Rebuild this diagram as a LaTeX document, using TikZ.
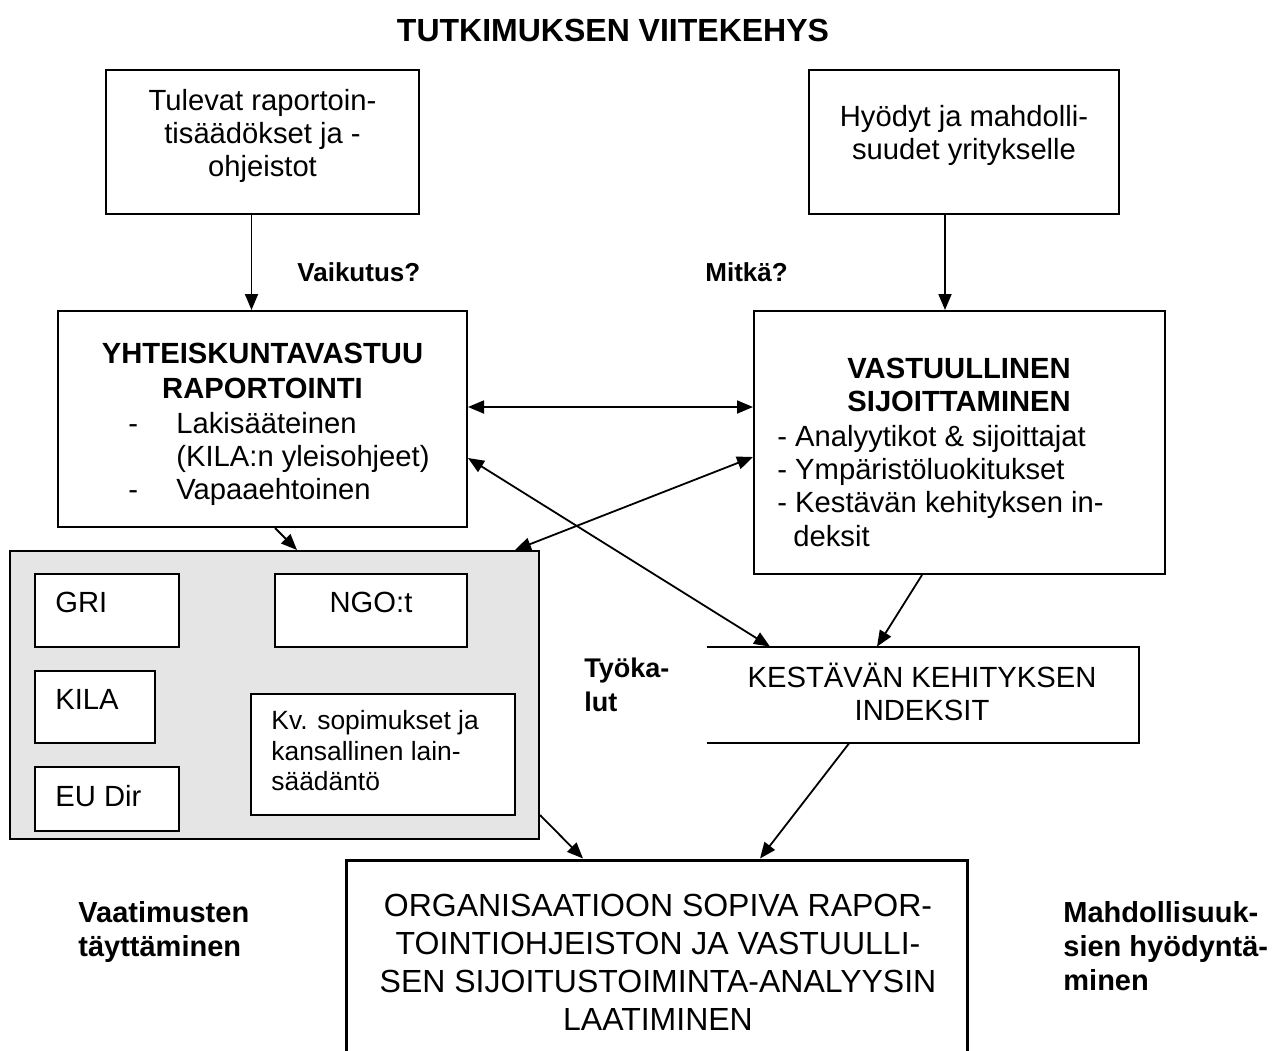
\documentclass[tikz,border=0pt]{standalone}
\usepackage{fontspec}
\setmainfont{Liberation Sans}
\usetikzlibrary{arrows.meta}

% font sizes used in the figure
\newcommand\txtbody{\fontsize{14.6}{16.5}\selectfont}
\newcommand\txtsmall{\fontsize{13.2}{15.25}\selectfont}
\newcommand\txtlabel{\fontsize{14.5}{17}\selectfont\bfseries}
\newcommand\txtbig{\fontsize{16}{19}\selectfont}
\newcommand\txttitle{\fontsize{16}{19}\selectfont\bfseries}

\begin{document}
\begin{tikzpicture}[x=0.5pt,y=-0.5pt,
  frame/.style={draw,line width=1pt,inner sep=0pt},
  thickframe/.style={draw,line width=1.5pt,inner sep=0pt},
  panel/.style={draw,line width=1pt,inner sep=0pt,fill=black!10},
  txt/.style={inner sep=0pt,font=\txtbody},
  lbl/.style={inner sep=0pt,font=\txtlabel,anchor=base west},
  conn/.style={line width=0.9pt,-{Triangle[length=8pt,width=6.5pt]}},
  biconn/.style={line width=0.9pt,{Triangle[length=8pt,width=6.5pt]}-{Triangle[length=8pt,width=6.5pt]}}]

\clip (0,0) rectangle (1272,1050);
\fill[white] (0,0) rectangle (1272,1050);

% title
\node[inner sep=0pt,font=\txttitle] (title) at (613,30) {TUTKIMUKSEN VIITEKEHYS};

% top boxes
\node[frame,minimum width=156.5pt,minimum height=72pt] (b1) at (262.5,142) {};
\node[txt,align=center] (b1t) at (262.5,136) {Tulevat raportoin-\\tisäädökset ja -\\ohjeistot};

\node[frame,minimum width=155pt,minimum height=72pt] (b3) at (964,142) {};
\node[txt,align=center] (b3t) at (964,135) {Hyödyt ja mahdolli-\\suudet yritykselle};

% reporting box
\node[frame,minimum width=204.5pt,minimum height=108pt] (b2) at (262.5,419) {};
\node[txt,font=\txtbody\bfseries,anchor=base] (b2h1) at (262.5,363) {YHTEISKUNTAVASTUU};
\node[txt,font=\txtbody\bfseries,anchor=base] (b2h2) at (262.5,398) {RAPORTOINTI};
\node[txt,anchor=base west] (b2d1) at (128,433) {-};
\node[txt,anchor=base west] (b2l1) at (176,433) {Lakisääteinen};
\node[txt,anchor=base west] (b2l2) at (176,466) {(KILA:n yleisohjeet)};
\node[txt,anchor=base west] (b2d2) at (128,499) {-};
\node[txt,anchor=base west] (b2l3) at (176,499) {Vapaaehtoinen};

% investment box
\node[frame,minimum width=205.5pt,minimum height=131.5pt] (b4) at (959.5,442.5) {};
\node[txt,font=\txtbody\bfseries,anchor=base west] (b4h1) at (847,378) {VASTUULLINEN};
\node[txt,font=\txtbody\bfseries,anchor=base west] (b4h2) at (847,411) {SIJOITTAMINEN};
\node[txt,anchor=base west] (b4l1) at (777,446) {- Analyytikot \& sijoittajat};
\node[txt,anchor=base west] (b4l2) at (777,479) {- Ympäristöluokitukset};
\node[txt,anchor=base west] (b4l3) at (777,512) {- Kestävän kehityksen in-};
\node[txt,anchor=base west] (b4l4) at (793,546) {deksit};

% tools panel
\node[panel,minimum width=264.5pt,minimum height=144pt] (panel) at (274.5,695) {};
\node[frame,fill=white,minimum width=72pt,minimum height=36.5pt] (gri) at (107,610.5) {};
\node[txt,anchor=base west] (grit) at (55,612) {GRI};
\node[frame,fill=white,minimum width=96pt,minimum height=36.5pt] (ngo) at (371,610.5) {};
\node[txt,anchor=base] (ngot) at (371,612) {NGO:t};
\node[frame,fill=white,minimum width=60pt,minimum height=36pt] (kila) at (95,707) {};
\node[txt,anchor=base west] (kilat) at (55,709) {KILA};
\node[frame,fill=white,minimum width=72pt,minimum height=32pt] (eudir) at (107,799) {};
\node[txt,anchor=base west] (eudirt) at (55,806) {EU Dir};
\node[frame,fill=white,minimum width=132pt,minimum height=60.5pt] (kv) at (383,754.5) {};
\node[txt,font=\txtsmall,anchor=base west] (kv1) at (271,729) {Kv. sopimukset ja};
\node[txt,font=\txtsmall,anchor=base west] (kv2) at (271,760) {kansallinen lain-};
\node[txt,font=\txtsmall,anchor=base west] (kv3) at (271,790) {säädäntö};

% index box (open on the left)
\node[inner sep=0pt,minimum width=216pt,minimum height=48pt] (kest) at (923,695) {};
\draw[line width=1pt] (kest.north west) -- (kest.north east) -- (kest.south east) -- (kest.south west);
\node[txt,align=center] (kestt) at (922,692) {KESTÄVÄN KEHITYKSEN\\INDEKSIT};

% result box
\node[thickframe,minimum width=310.5pt,minimum height=121pt] (res) at (656.5,981) {};
\node[txt,font=\txtbig,align=center] (rest) at (658,962) {ORGANISAATIOON SOPIVA RAPOR-\\TOINTIOHJEISTON JA VASTUULLI-\\SEN SIJOITUSTOIMINTA-ANALYYSIN\\LAATIMINEN};

% free labels
\node[lbl,font=\fontsize{13}{15}\selectfont\bfseries] (vaik) at (297,281) {Vaikutus?};
\node[lbl,font=\fontsize{13}{15}\selectfont\bfseries] (mitka) at (705,281) {Mitkä?};
\node[lbl,font=\fontsize{13.5}{15}\selectfont\bfseries] (tyo1) at (584,677) {Työka-};
\node[lbl,font=\fontsize{13.5}{15}\selectfont\bfseries] (tyo2) at (584,711) {lut};
\node[lbl] (vaat1) at (78,922) {Vaatimusten};
\node[lbl] (vaat2) at (78,956) {täyttäminen};
\node[lbl] (mahd1) at (1063,922) {Mahdollisuuk-};
\node[lbl] (mahd2) at (1063,956) {sien hyödyntä-};
\node[lbl] (mahd3) at (1063,990) {minen};

% connectors
\draw[conn] ([xshift=-5.5pt]b1.south) -- ([xshift=-5.5pt]b2.north);
\draw[conn] ([xshift=-9.5pt]b3.south) -- ([xshift=-7.25pt]b4.north);
\draw[biconn] ([yshift=6pt]b2.east) -- ([yshift=17.75pt]b4.west);
\draw[biconn] ([yshift=-7.25pt]b4.west) -- ([xshift=120.25pt]panel.north);
\draw[biconn] ([yshift=-19.5pt]b2.east) -- ([xshift=-76.5pt]kest.north);
\draw[conn] ([xshift=6.25pt]b2.south) -- ([xshift=11.25pt]panel.north);
\draw[conn] ([xshift=-18.75pt]b4.south) -- ([xshift=-23pt]kest.north);
\draw[conn] ([yshift=-60pt]panel.east) -- ([xshift=-36.75pt]res.north);
\draw[conn] ([xshift=-37pt]kest.south) -- ([xshift=51.75pt]res.north);

\end{tikzpicture}
\end{document}
